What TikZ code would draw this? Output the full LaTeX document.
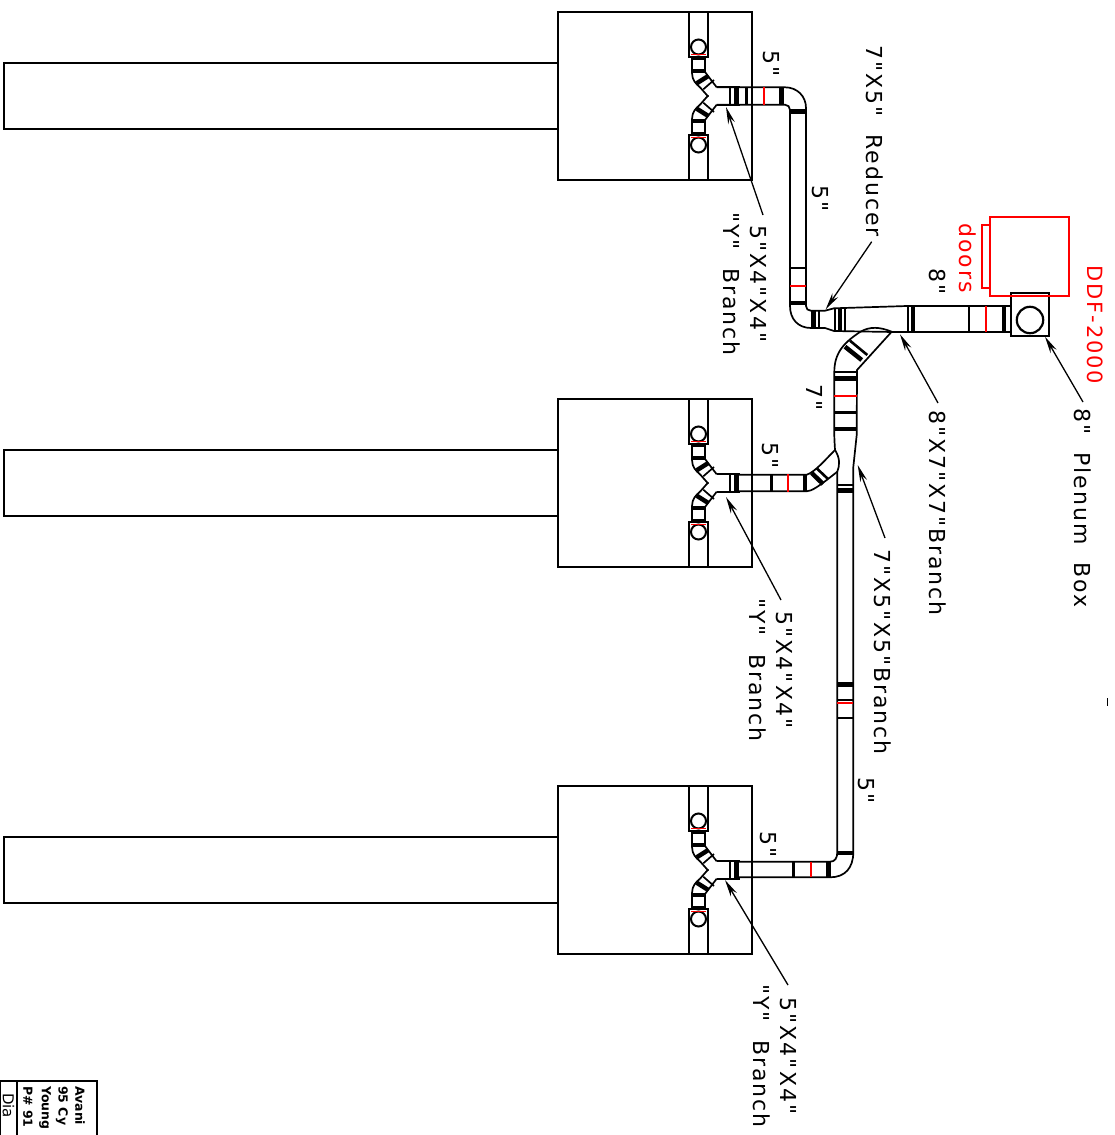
\documentclass[tikz,border=0pt]{standalone}
\usepackage{fontspec}
\newfontfamily\cadfont[LetterSpace=9]{DejaVu Sans}
\newfontfamily\blockfont{DejaVu Sans}
\usetikzlibrary{arrows.meta}

\tikzset{
    duct/.style={line width=1.7pt},
    band/.style={line width=4.5pt},
    thinband/.style={line width=2.6pt},
    redband/.style={red, line width=1.8pt},
    leader/.style={line width=1.3pt, -{Stealth[length=17pt,width=7pt]}},
    dimlabel/.style={rotate=-90, font=\cadfont\fontsize{22}{27}\selectfont, align=center},
    blocklabel/.style={rotate=-90, anchor=west, inner sep=0pt, font=\blockfont\bfseries\fontsize{12.5}{15}\selectfont},
    yarm/.pic={
        \draw [duct] (688.7,-84) rectangle (708,-39);
        \draw [line width=2pt] (698.5,-49) circle (7.5);
        \draw [redband] (691,-41.5) -- (706,-41.5);
        \draw [duct] (692,-39) -- (692,-23) .. controls (692,-16) and (696,-12) .. (700,-8.7) -- (708.3,0.7);
        \draw [duct] (705,-39) -- (705,-24) -- (716.7,-8.7);
        \draw [thinband] (692,-37) -- (705,-37);
        \draw [band] (692,-25) -- (705,-25);
        \draw [band] (696.7,-12.7) -- (708.3,-20);
        \draw [duct] (703.3,-6.7) -- (714,-16);
    },
    ybranch/.pic={
        \pic {yarm};
        \pic [yscale=-1] {yarm};
        \draw [duct] (716.7,-8.7) -- (740,-8.7);
        \draw [duct] (716.7,8.7) -- (740,8.7);
        \draw [duct] (730,-8.7) -- (730,8.7);
        \draw [band] (736.3,-8.7) -- (736.3,8.7);
    },
}

\begin{document}
\begin{tikzpicture}[x=1pt, y=-1pt]
    \useasboundingbox (0,0) rectangle (1115,1135);
    \clip (0,0) rectangle (1115,1135);

    % Terminal boxes
    \draw [duct] (4,63) rectangle (558,129);
    \draw [duct] (558,12) rectangle (752,180);
    \draw [duct] (4,450) rectangle (558,516);
    \draw [duct] (558,399) rectangle (752,567);
    \draw [duct] (4,837) rectangle (558,903);
    \draw [duct] (558,786) rectangle (752,954);
    \pic at (0,96) {ybranch};
    \pic at (0,483) {ybranch};
    \pic at (0,870) {ybranch};

    % Top run
    \draw [duct] (716.7,87.3) -- (785,87.3) .. controls (797,87.3) and (806,96) .. (806,108) -- (806,306) .. controls (806,309) and (808,310.7) .. (811,310.7) -- (825,310.7) -- (834,308.3) -- (907,306);
    \draw [duct] (716.7,104.7) -- (785,104.7) .. controls (788,104.7) and (790,107) .. (790,110) -- (790,306) .. controls (790,319) and (798,328) .. (811,328) -- (825,328) -- (834,331) -- (893,332);
    \draw [thinband] (746.5,87.3) -- (746.5,104.7);
    \draw [redband] (764,87.3) -- (764,104.7);
    \draw [band] (781.7,87.3) -- (781.7,104.7);
    \draw [band] (790,111.7) -- (806,111.7);
    \draw [thinband] (790,268) -- (806,268);
    \draw [redband] (790,286) -- (806,286);
    \draw [band] (790,303) -- (806,303);
    \draw [band] (813.3,310.7) -- (813.3,328);
    \draw [duct] (819,310.7) -- (819,328);
    \draw [duct] (835,309) -- (835,331);
    \draw [band] (840,308.5) -- (840,331);
    \draw [thinband] (845,308) -- (845,331);

    % 8 inch main
    \draw [duct] (907,306) -- (1011,306);
    \draw [duct] (893,332.3) -- (1011,332.3);
    \draw [duct] (908,306) -- (908,332);
    \draw [band] (913,306) -- (913,332);
    \draw [thinband] (969,306) -- (969,332);
    \draw [redband] (986,306) -- (986,332);
    \draw [band] (1004,306) -- (1004,332);

    % Plenum box
    \draw [line width=2pt] (1011,293.3) rectangle (1049,335.7);
    \draw [duct] (1005,296) -- (1055,296);
    \draw [line width=2.2pt] (1030,320) circle (13.2);
    \draw [red, duct] (990,217.3) rectangle (1069.3,296.3);
    \draw [red, duct] (982.3,225) rectangle (990,288);
    \draw [duct] (1107.5,698) -- (1107.5,706);

    % 7 inch branch
    \draw [duct] (891.7,331.7) .. controls (880,327) and (870,326) .. (860,332) .. controls (845,342) and (834,352) .. (834.3,373) -- (834.3,435) .. controls (834.5,445) and (835,447) .. (835,450);
    \draw [duct] (891.7,331.7) -- (857,370) -- (856.7,435) -- (853.3,467) -- (853.3,852) .. controls (853.3,868) and (845,877.3) .. (830,877.3) -- (736,877.3);
    \draw [band] (845,346.7) -- (861.7,360);
    \draw [thinband] (850,340.7) -- (867.3,355);
    \draw [duct] (834.3,372) -- (856.7,372);
    \draw [band] (834.3,378.3) -- (856.7,378.3);
    \draw [redband] (834.3,396) -- (856.7,396);
    \draw [thinband] (834.3,412.3) -- (856.7,412.3);
    \draw [band] (834.3,429) -- (856.7,429);
    \draw [duct] (835,450) .. controls (840,458) and (840,465) .. (837.3,471.7) -- (837.3,852) .. controls (837.3,858) and (835,861.7) .. (830,861.7) -- (736,861.7);
    \draw [duct] (837.3,485) -- (853.3,485);
    \draw [band] (837.3,490.7) -- (853.3,490.7);

    % Middle run
    \draw [duct] (736,474.7) -- (806.7,474.7) .. controls (815,472) and (825,460) .. (835,450);
    \draw [duct] (736,491.3) -- (806.7,491.3) .. controls (812,491) and (818,487) .. (837.3,471.7);
    \draw [line width=2.8pt] (771.3,474) -- (771.3,492);
    \draw [red, line width=2pt] (787.7,474) -- (787.7,492);
    \draw [band] (805,474.7) -- (805,491.3);
    \draw [band] (811.7,473) -- (823,484);
    \draw [thinband] (816.7,468.3) -- (828.3,479.3);

    % Lower run
    \draw [band] (837.3,684.5) -- (853.3,684.5);
    \draw [duct] (837.3,700) -- (853.3,700);
    \draw [redband] (837.3,703) -- (853.3,703);
    \draw [duct] (837.3,718) -- (853.3,718);
    \draw [band] (837.3,853) -- (853.3,853);
    \draw [thinband] (793.3,861.7) -- (793.3,877.3);
    \draw [redband] (810.7,861.7) -- (810.7,877.3);
    \draw [band] (828.3,861.7) -- (828.3,877.3);

    % Labels
    \node [dimlabel] (topdrop) at (771,64) {5"};
    \node [dimlabel] (toprun) at (820,199) {5"};
    \node [dimlabel] (reducer) at (875,141) {7"X5"\ \ Reducer};
    \node [dimlabel] (topy) at (745,284) {5"X4"X4"\\"Y"\ \ Branch};
    \node [dimlabel] (maindim) at (937,282) {8"};
    \node [dimlabel, red] (doors) at (968,258) {doors};
    \node [dimlabel, red, font=\cadfont\fontsize{21}{27}\selectfont] (ddf) at (1095,325) {DDF-2000};
    \node [dimlabel] (plenum) at (1083,508) {8"\ \ Plenum\ \ Box};
    \node [dimlabel] (mainbranch) at (938,513) {8"X7"X7"Branch};
    \node [dimlabel] (branchdim) at (815,398) {7"};
    \node [dimlabel] (middrop) at (770,456) {5"};
    \node [dimlabel] (midy) at (771,670) {5"X4"X4"\\"Y"\ \ Branch};
    \node [dimlabel] (midbranch) at (883,652) {7"X5"X5"Branch};
    \node [dimlabel] (lowrun) at (866,791) {5"};
    \node [dimlabel] (lowdrop) at (768,845) {5"};
    \node [dimlabel] (lowy) at (775,1056) {5"X4"X4"\\"Y"\ \ Branch};

    % Leaders
    \coordinate (topya) at (763,215);
    \coordinate (topyb) at (726,107);
    \coordinate (midya) at (781,600);
    \coordinate (midyb) at (726,497);
    \coordinate (lowya) at (788,985);
    \coordinate (lowyb) at (725,880);
    \coordinate (reducera) at (871.7,241.7);
    \coordinate (reducerb) at (825.7,309.3);
    \coordinate (mainbrancha) at (938,403);
    \coordinate (mainbranchb) at (900,334.3);
    \coordinate (plenuma) at (1083,402);
    \coordinate (plenumb) at (1045,336.7);
    \coordinate (midbrancha) at (885,538);
    \coordinate (midbranchb) at (857.7,465);
    \draw [leader] (topya) -- (topyb);
    \draw [leader] (midya) -- (midyb);
    \draw [leader] (lowya) -- (lowyb);
    \draw [leader] (reducera) -- (reducerb);
    \draw [leader] (mainbrancha) -- (mainbranchb);
    \draw [leader] (plenuma) -- (plenumb);
    \draw [leader] (midbrancha) -- (midbranchb);

    % Title block
    \draw [duct] (97,1081) rectangle (0,1140);
    \draw [duct] (17,1081) -- (17,1135);
    \node [blocklabel] (client) at (80,1086) {Avani};
    \node [blocklabel] (street) at (62,1086) {95 Cy};
    \node [blocklabel] (town) at (45,1086) {Young};
    \node [blocklabel] (phone) at (28,1086) {P\# 91};
    \node [blocklabel, font=\blockfont\fontsize{15}{18}\selectfont] (drawing) at (8.5,1093) {Dia};
\end{tikzpicture}
\end{document}
